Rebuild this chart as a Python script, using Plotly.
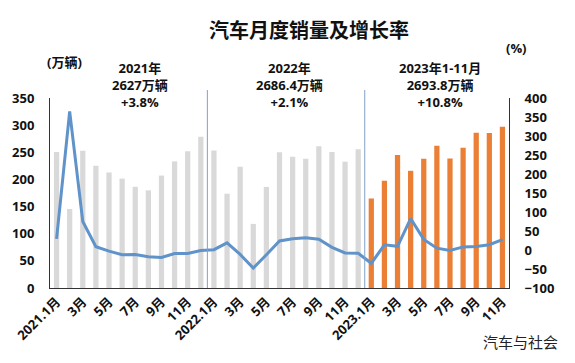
import plotly.graph_objects as go

months = [f"{y}.{m}" for y in (2021, 2022) for m in range(1, 13)] + [f"2023.{m}" for m in range(1, 12)]
sales_2021 = [250.3, 145.5, 252.6, 225.2, 212.8, 201.5, 186.4, 179.9, 207.1, 233.2, 252.1, 278.6]
sales_2022 = [253.1, 173.7, 223.4, 118.1, 186.2, 250.2, 242.0, 238.3, 261.0, 250.5, 232.7, 255.6]
sales_2023 = [164.9, 197.6, 245.1, 215.9, 238.2, 262.2, 238.7, 258.2, 285.8, 285.3, 297.0]
growth = [29.5, 364.8, 74.9, 8.6, -3.1, -12.4, -11.9, -17.8, -19.6, -9.4, -9.1, -1.6,
          0.9, 18.7, -11.7, -47.6, -12.6, 23.8, 29.7, 32.1, 28.1, 6.9, -7.9, -8.4,
          -35.0, 13.5, 9.7, 82.7, 27.9, 4.8, -1.4, 8.2, 9.5, 13.8, 27.4]
tick_months = [m for m in months if int(m.split(".")[1]) % 2 == 1]
tick_text = [(m + "月") if m.endswith(".1") else (m.split(".")[1] + "月") for m in tick_months]
year_notes = ["2021年<br>2627万辆<br>+3.8%", "2022年<br>2686.4万辆<br>+2.1%", "2023年1-11月<br>2693.8万辆<br>+10.8%"]

sales = sales_2021 + sales_2022 + sales_2023
colors = ["#d9d9d9"] * 24 + ["#ea7f35"] * 11

FONT = "Open Sans, Noto Sans CJK SC, sans-serif"
OFF = 8  # default page body margin
W, H = 575 - 2 * OFF, 363 - 2 * OFF
L, R, T, B = 50 - OFF, 509 - OFF, 98 - OFF, 288 - OFF
PW, PH = R - L, B - T


def px(x):
    return (x - OFF - L) / PW


def py(y):
    return (B - (y - OFF)) / PH


def note(text, x, y, size=13, color="#111111", family=FONT):
    fig.add_annotation(text=text, x=px(x), xref="paper", y=py(y), yref="paper",
                       xanchor="center", yanchor="middle", showarrow=False, align="center",
                       font=dict(size=size, color=color, family=family))


fig = go.Figure()
fig.add_trace(go.Bar(x=months, y=sales, marker=dict(color=colors, line=dict(width=0)),
                     yaxis="y", showlegend=False))
fig.add_trace(go.Scatter(x=months, y=growth, mode="lines", line=dict(color="#6093c9", width=3),
                         yaxis="y2", showlegend=False))

for idx in (11.5, 23.5):
    fig.add_shape(type="line", xref="x", yref="paper", x0=idx, x1=idx, y0=0, y1=py(90),
                  line=dict(color="#7fa3c8", width=1))

for xc, t in zip((140, 289, 440), year_notes):
    note("<b>" + t + "</b>", xc, 85)

note("<b>汽车月度销量及增长率</b>", 309, 30, size=20)
note("<b>(万辆)</b>", 64, 62)
note("<b>(%)</b>", 516, 48)
note("汽车与社会", 520, 341, size=15, color="#222222", family="Noto Sans CJK SC")

fig.update_layout(
    width=W, height=H,
    margin=dict(l=L, r=W - R, t=T, b=H - B, autoexpand=False),
    paper_bgcolor="white", plot_bgcolor="white",
    bargap=0.6,
    font=dict(family=FONT, color="#111111"),
    xaxis=dict(type="category", tickmode="array", tickvals=tick_months, ticktext=tick_text,
               tickangle=-45, tickfont=dict(size=13, weight="bold"), automargin=False,
               showline=True, linecolor="#333333", linewidth=1, ticks="", showgrid=False,
               range=[-0.5, 34.5]),
    yaxis=dict(range=[0, 350], dtick=50, showline=True, linecolor="#333333", linewidth=1,
               showgrid=False, zeroline=False, ticks="", ticklabelstandoff=12, automargin=False,
               tickfont=dict(size=13, weight="bold")),
    yaxis2=dict(range=[-100, 400], dtick=50, overlaying="y", side="right", showline=True,
                linecolor="#333333", linewidth=1, showgrid=False, zeroline=False, ticks="",
                ticklabelstandoff=12, automargin=False, tickfont=dict(size=13, weight="bold")),
)

fig.write_html("out.html")
